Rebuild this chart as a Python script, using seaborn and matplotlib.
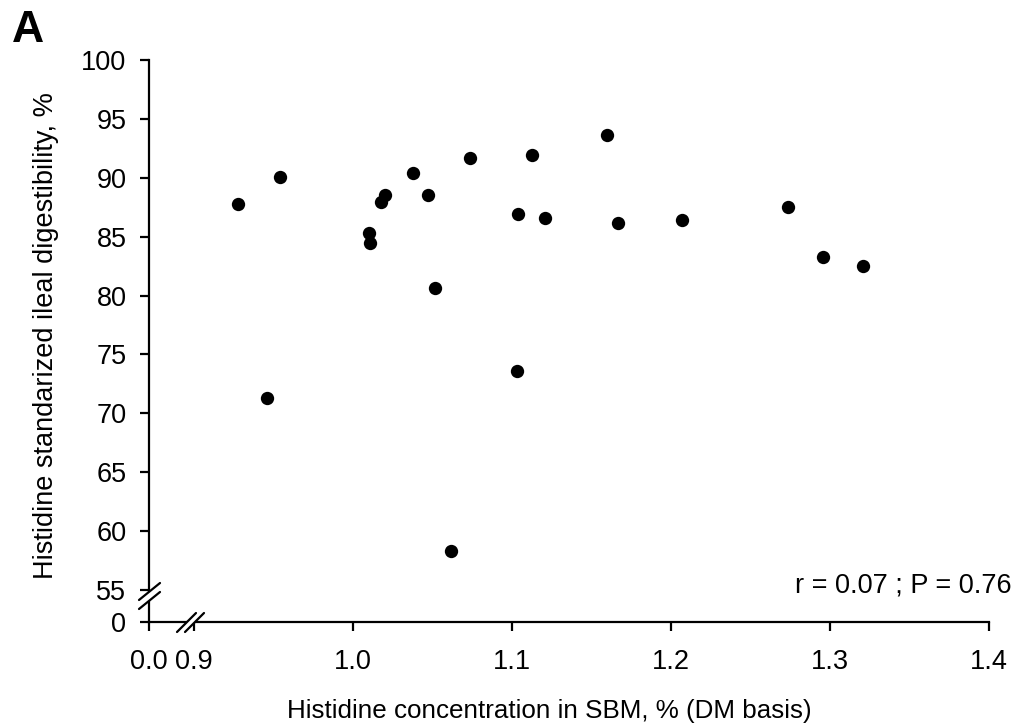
import matplotlib
matplotlib.use("Agg")
import matplotlib.pyplot as plt
import seaborn as sns
import pandas as pd
from matplotlib.patches import Polygon

# ---- data ----
his_conc = [0.928, 0.954, 0.946, 1.010, 1.011, 1.018, 1.020, 1.038, 1.047, 1.052,
            1.062, 1.074, 1.103, 1.104, 1.113, 1.121, 1.160, 1.167, 1.207, 1.274,
            1.296, 1.321]
his_sid = [87.8, 90.1, 71.3, 85.3, 84.5, 87.9, 88.5, 90.4, 88.5, 80.6,
           58.3, 91.7, 73.6, 86.9, 91.9, 86.6, 93.6, 86.2, 86.4, 87.5,
           83.3, 82.5]

x_tick_vals = [0.872, 0.9, 1.0, 1.1, 1.2, 1.3, 1.4]
x_tick_labels = ["0.0", "0.9", "1.0", "1.1", "1.2", "1.3", "1.4"]
y_tick_vals = [52.3, 55, 60, 65, 70, 75, 80, 85, 90, 95, 100]
y_tick_labels = ["0", "55", "60", "65", "70", "75", "80", "85", "90", "95", "100"]

stat_text = "r = 0.07 ; P = 0.76"
panel_label = "A"
x_label = "Histidine concentration in SBM, % (DM basis)"
y_label = "Histidine standarized ileal digestibility, %"

df = pd.DataFrame({"conc": his_conc, "sid": his_sid})

sns.set_style("ticks")
plt.rcParams["font.family"] = ["Liberation Sans", "DejaVu Sans"]
plt.rcParams["text.color"] = "black"
plt.rcParams["axes.labelcolor"] = "black"
plt.rcParams["xtick.color"] = "black"
plt.rcParams["ytick.color"] = "black"

FS = 19.5
W, H = 1023, 725
fig = plt.figure(figsize=(W / 100, H / 100), dpi=100)
ax_l, ax_b, ax_r, ax_t = 149.3, 621.7, 988.7, 60.0  # pixel coordinates
ax = fig.add_axes([ax_l / W, 1 - ax_b / H, (ax_r - ax_l) / W, (ax_b - ax_t) / H])

sns.scatterplot(data=df, x="conc", y="sid", ax=ax, color="black", s=92,
                linewidth=0, legend=False, clip_on=False, zorder=3)

ax.set_xlim(x_tick_vals[0], x_tick_vals[-1])
ax.set_ylim(y_tick_vals[0], y_tick_vals[-1])
ax.set_xticks(x_tick_vals)
ax.set_xticklabels(x_tick_labels)
ax.set_yticks(y_tick_vals)
ax.set_yticklabels(y_tick_labels)

for s in ["top", "right"]:
    ax.spines[s].set_visible(False)
for s in ["left", "bottom"]:
    ax.spines[s].set_linewidth(1.6)
    ax.spines[s].set_color("black")

ax.tick_params(axis="both", direction="out", length=6.5, width=1.6,
               colors="black", labelcolor="black", labelsize=FS)
ax.tick_params(axis="y", pad=10)
ax.tick_params(axis="x", pad=13)

ax.set_xlabel(x_label, fontsize=18.7, color="black")
ax.set_ylabel(y_label, fontsize=FS, color="black")
ax.xaxis.set_label_coords((549 - ax_l) / (ax_r - ax_l), (ax_b - 699) / (ax_b - ax_t))
ax.yaxis.set_label_coords((59 - ax_l) / (ax_r - ax_l), (ax_b - 336) / (ax_b - ax_t))

ax.text((1012 - ax_l) / (ax_r - ax_l), (ax_b - 585) / (ax_b - ax_t), stat_text,
        transform=ax.transAxes, ha="right", va="center", fontsize=FS, color="black")

fig.text(12 / W, 1 - 10 / H, panel_label, fontsize=32, fontweight="bold",
         ha="left", va="top", color="black")


def px(x, y):
    return (x / W, 1 - y / H)


def draw_break(p1a, p1b, p2a, p2b):
    poly = Polygon([px(*p1a), px(*p1b), px(*p2b), px(*p2a)], closed=True,
                   transform=fig.transFigure, facecolor="white", edgecolor="none",
                   zorder=10, clip_on=False)
    fig.add_artist(poly)
    for a, b in [(p1a, p1b), (p2a, p2b)]:
        fig.add_artist(plt.Line2D([px(*a)[0], px(*b)[0]], [px(*a)[1], px(*b)[1]],
                                  transform=fig.transFigure, color="black",
                                  linewidth=1.6, zorder=11))


# y-axis break
draw_break((139, 600), (160, 583), (139, 609), (160, 592))
# x-axis break
draw_break((177, 632), (196, 613), (185, 632), (204, 613))

fig.savefig("out.png", dpi=100, facecolor="white")
